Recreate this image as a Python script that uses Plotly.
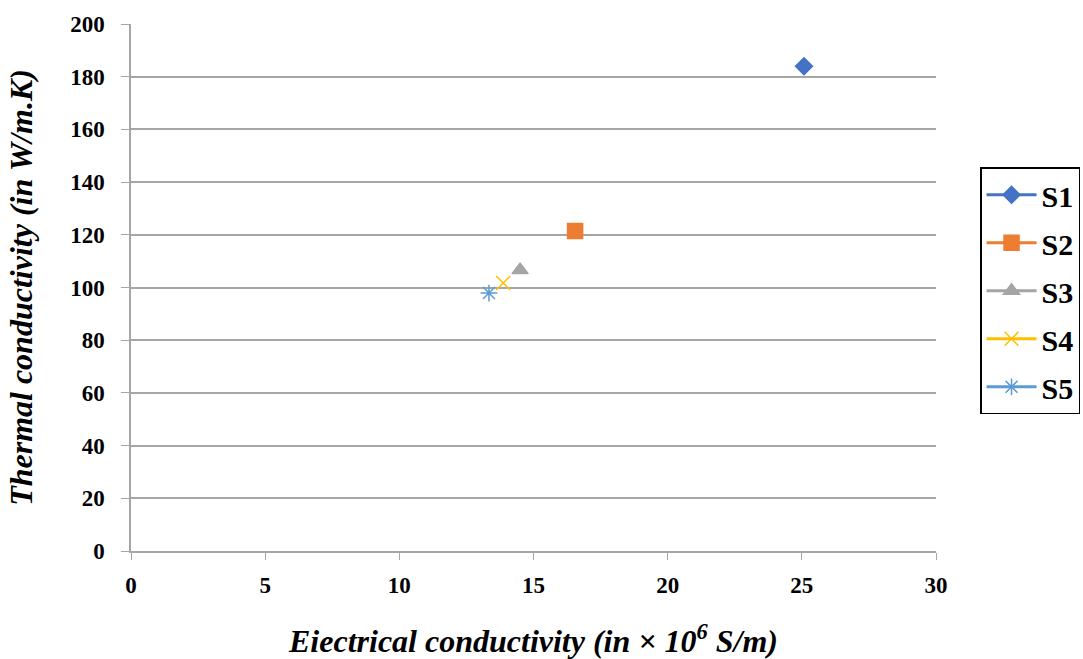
import plotly.graph_objects as go

names = ["S1", "S2", "S3", "S4", "S5"]
x_vals = [25.08, 16.55, 14.5, 13.87, 13.34]
y_vals = [184.0, 121.4, 106.6, 101.7, 97.9]
x_ticks = [0, 5, 10, 15, 20, 25, 30]
y_ticks = [0, 20, 40, 60, 80, 100, 120, 140, 160, 180, 200]
colors = ["#4472C4", "#ED7D31", "#A5A5A5", "#FFC000", "#5B9BD5"]
symbols = ["diamond", "square", "triangle-up", "x-thin", "asterisk"]
sizes = [13, 15, 14, 14, 14]

FONT = "Liberation Serif, Times New Roman, serif"

fig = go.Figure()
for n, x, y, c, s, sz in zip(names, x_vals, y_vals, colors, symbols, sizes):
    fig.add_trace(go.Scatter(
        x=[x], y=[y], name="<b>" + n + "</b>", mode="lines+markers",
        legendgroup=n,
        line=dict(color=c, width=3),
        marker=dict(symbol=s, size=sz, color=c, line=dict(color=c, width=1.5)),
    ))

fig.update_layout(
    width=1083, height=659,
    margin=dict(l=131, r=147, t=24, b=108, autoexpand=False),
    paper_bgcolor="white", plot_bgcolor="white",
    font=dict(family=FONT, color="black", size=18),
    showlegend=True,
    legend=dict(
        x=1.0547, y=0.728, xanchor="left", yanchor="top",
        bordercolor="black", borderwidth=1.5,
        font=dict(family=FONT, size=30, color="black"),
        itemwidth=50, tracegroupgap=6,
    ),
    xaxis=dict(
        range=[0, 30], showgrid=False, zeroline=False,
        tickmode="array", tickvals=x_ticks,
        ticktext=["<b>%d</b>" % v for v in x_ticks],
        showline=True, linecolor="#a6a6a6", linewidth=1.5,
        ticks="outside", tickcolor="#a6a6a6", ticklen=7,
        ticklabelstandoff=6,
        tickfont=dict(family=FONT, size=23, color="black"),
        title=dict(text="<b><i>Eiectrical conductivity (in × 10<sup>6</sup> S/m)</i></b>",
                   font=dict(family=FONT, size=32, color="black"),
                   standoff=34),
    ),
    yaxis=dict(
        range=[0, 200], showgrid=True, gridcolor="#a6a6a6", gridwidth=1.5,
        tickmode="array", tickvals=y_ticks,
        ticktext=["<b>%d</b>" % v for v in y_ticks],
        zeroline=False, showline=True, linecolor="#a6a6a6", linewidth=1.5,
        ticks="outside", tickcolor="#a6a6a6", ticklen=8,
        ticklabelstandoff=12,
        tickfont=dict(family=FONT, size=23, color="black"),
        title=dict(text="<b><i>Thermal conductivity (in W/m.K)</i></b>",
                   font=dict(family=FONT, size=32, color="black"),
                   standoff=28),
    ),
)

fig.write_html("out.html")
